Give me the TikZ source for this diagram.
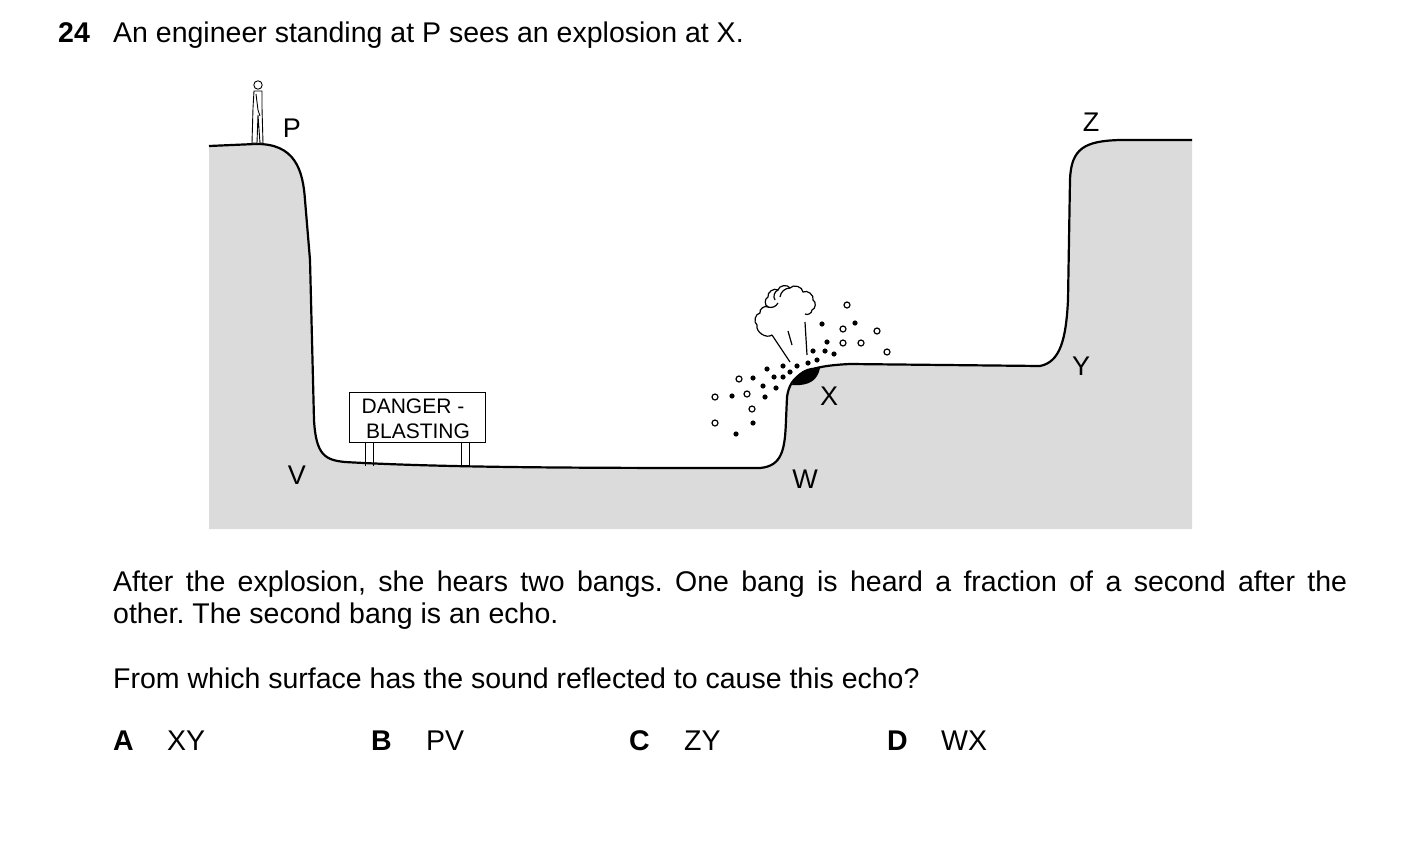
\documentclass[tikz,border=0pt]{standalone}
\usepackage{fontspec}
\setmainfont{Liberation Sans}
\begin{document}
\frenchspacing
\begin{tikzpicture}[x=1pt,y=-1pt,
  txt/.style={font=\fontsize{28.5}{32}\selectfont,inner sep=0pt},
  lbl/.style={font=\fontsize{27}{30}\selectfont,inner sep=0pt},
  sgn/.style={font=\fontsize{21}{25}\selectfont,inner sep=0pt,align=center},
  doto/.style={draw=black,fill=white,line width=1.2pt}]
\useasboundingbox (0,0) rectangle (1403,849);
% ground
\fill[black!14] (209,146) -- (255,144) .. controls (295,143) and (303,170) .. (305,200)
  -- (310,260) -- (314,420) .. controls (316,455) and (325,460) .. (345,462)
  .. controls (450,468) and (600,468) .. (760,468)
  .. controls (782,466) and (785,450) .. (786,420) -- (787,397)
  .. controls (790,375) and (805,366) .. (850,364) -- (1040,366)
  .. controls (1060,362) and (1066,340) .. (1068,300) -- (1070,180)
  .. controls (1071,148) and (1085,141) .. (1120,140) -- (1192,140)
  -- (1192,529) -- (209,529) -- cycle;
\draw[line width=2.2pt] (209,146) -- (255,144) .. controls (295,143) and (303,170) .. (305,200)
  -- (310,260) -- (314,420) .. controls (316,455) and (325,460) .. (345,462)
  .. controls (450,468) and (600,468) .. (760,468)
  .. controls (782,466) and (785,450) .. (786,420) -- (787,397)
  .. controls (790,375) and (805,366) .. (850,364) -- (1040,366)
  .. controls (1060,362) and (1066,340) .. (1068,300) -- (1070,180)
  .. controls (1071,148) and (1085,141) .. (1120,140) -- (1192,140);
% sign
\foreach \x in {365,373,461,469} \draw[line width=1pt] (\x,442) -- (\x,466);
\node[draw,line width=1pt,fill=white,minimum width=136pt,minimum height=50pt,inner sep=0pt] (sign) at (417,417) {};
\node[sgn] (s1) at (413,406) {DANGER -};
\node[sgn] (s2) at (418,431) {BLASTING};
% person
\begin{scope}[line width=0.9pt]
\draw[fill=white] (258,85) circle (4.2);
\draw[fill=white] (254,91) -- (253,108) -- (252,143) -- (257,143) -- (258,115) -- (260,143) -- (263,143) -- (262,108) -- (262,91) -- cycle;
\draw (256,94) -- (258,110) -- (260,116);
\end{scope}
% labels
\node[lbl] (P) at (292,128) {P};
\node[lbl] (Z) at (1091,122) {Z};
\node[lbl] (Y) at (1081,366) {Y};
\node[lbl] (X) at (829,396) {X};
\node[lbl] (W) at (805,479) {W};
\node[lbl] (V) at (297,475) {V};
% explosion blob
\fill (792,385) .. controls (796,372) and (808,366) .. (820,368) .. controls (818,378) and (812,384) .. (800,385) -- cycle;
% streaks
\draw[line width=1.2pt] (772,335) -- (790,362) (788,331) -- (792,345) (805,322) -- (807,355);
% cloud
\draw[line width=1.2pt] (772,335) to[bend left=70] (757,325) to[bend left=70] (760,313) to[bend left=70] (768,307)
  to[bend left=70] (768,297) to[bend left=70] (778,290) to[bend left=70] (790,288) to[bend left=70] (803,292)
  to[bend left=70] (813,300) to[bend left=70] (812,310) to[bend left=60] (805,314);
\draw[line width=1.2pt] (768,307) to[bend right=40] (778,303) (778,290) to[bend right=50] (775,300) (790,288) to[bend right=40] (780,297);
% particles
\foreach \p in {(822,324),(855,323),(827,342),(813,351),(825,351),(834,354),(817,360),(808,363),(797,366),(783,366),(790,372),(767,369),(774,377),(753,378),(783,377),(763,386),(776,388),(732,396),(765,397),(753,423),(736,434)}
  \fill \p circle (2.6);
\foreach \p in {(847,305),(843,329),(877,331),(843,343),(861,343),(887,352),(739,379),(747,394),(715,397),(752,409),(715,423)}
  \draw[doto] \p circle (3);
% text
\node[txt,anchor=base west] (n24) at (58,42) {\textbf{24}};
\node[txt,anchor=base west] (q) at (113,42) {An engineer standing at P sees an explosion at X.};
\node[txt,anchor=base west,text width=1234pt,align=justify] (para) at (113,591) {After the explosion, she hears two bangs. One bang is heard a fraction of a second after the\linebreak other. The second bang is an echo.};
\node[txt,anchor=base west] (qq) at (113,688) {From which surface has the sound reflected to cause this echo?};
\node[txt,anchor=base west] (A) at (113,750) {\textbf{A}};
\node[txt,anchor=base west] (Aa) at (167,750) {XY};
\node[txt,anchor=base west] (B) at (371,750) {\textbf{B}};
\node[txt,anchor=base west] (Ba) at (426,750) {PV};
\node[txt,anchor=base west] (C) at (629,750) {\textbf{C}};
\node[txt,anchor=base west] (Ca) at (684,750) {ZY};
\node[txt,anchor=base west] (D) at (887,750) {\textbf{D}};
\node[txt,anchor=base west] (Da) at (941,750) {WX};
\end{tikzpicture}
\end{document}
